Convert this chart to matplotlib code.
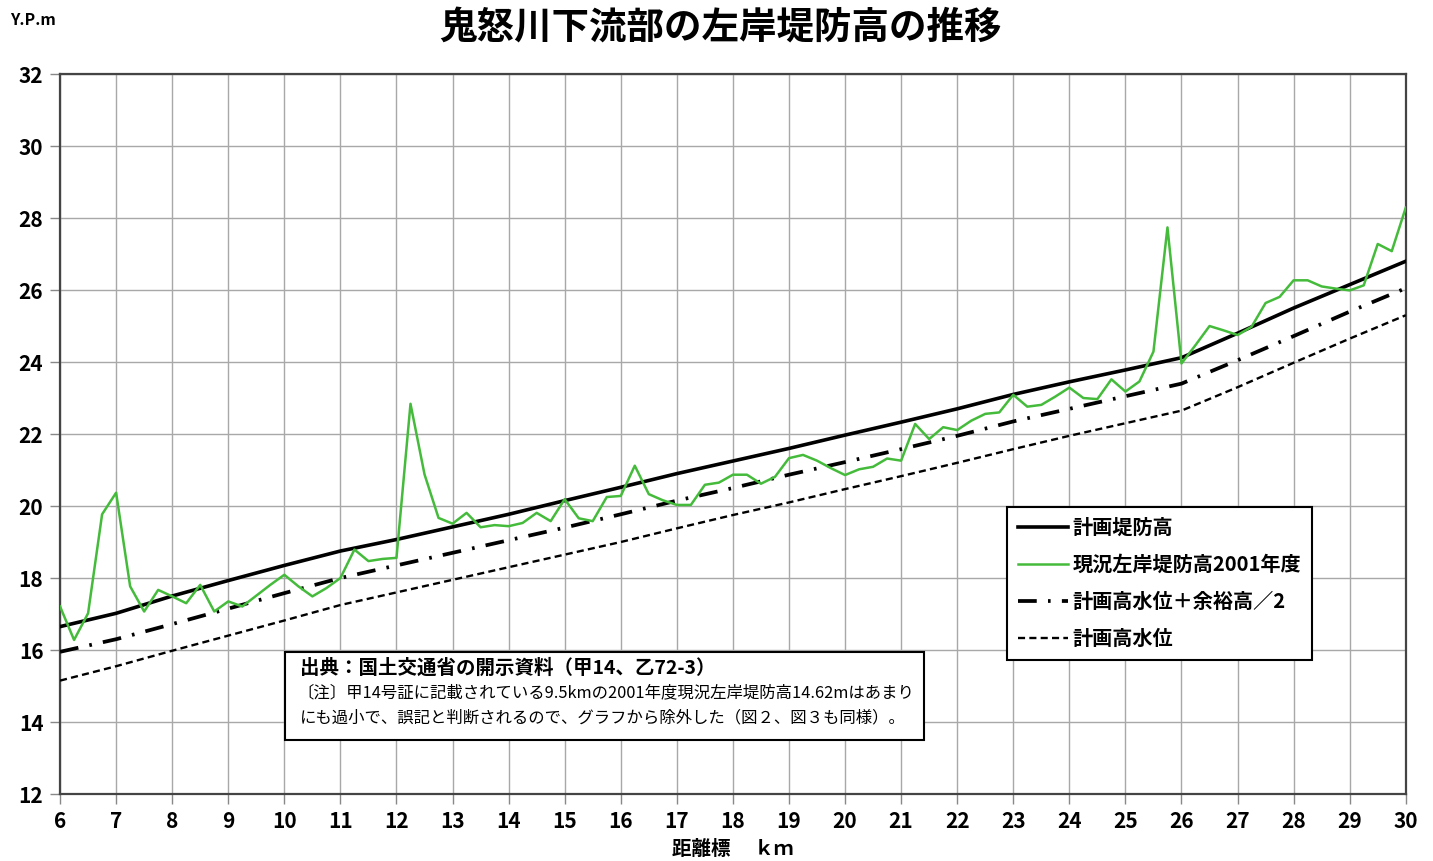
import numpy as np
import matplotlib
matplotlib.use("Agg")
import matplotlib.pyplot as plt
from matplotlib.patches import Rectangle

plt.rcParams['font.family'] = ['Noto Sans CJK JP', 'DejaVu Sans']

# 距離標 (km) for the design lines
km_plan = [6, 7, 8, 9, 10, 11, 12, 13, 14, 15, 16, 17, 18,
           19, 20, 21, 22, 23, 24, 25, 26, 27, 28, 29, 30]
# 計画堤防高
levee_plan = [16.65, 17.02, 17.50, 17.93, 18.35, 18.75, 19.07, 19.42, 19.77,
              20.15, 20.52, 20.90, 21.25, 21.60, 21.97, 22.33, 22.70, 23.10,
              23.45, 23.78, 24.12, 24.80, 25.50, 26.15, 26.80]
# 計画高水位＋余裕高／2
hwl_half = [15.95, 16.30, 16.72, 17.15, 17.58, 18.00, 18.35, 18.70, 19.05,
            19.40, 19.77, 20.15, 20.50, 20.87, 21.22, 21.58, 21.95, 22.35,
            22.70, 23.05, 23.40, 24.05, 24.72, 25.40, 26.05]
# 計画高水位
hwl = [15.15, 15.55, 15.98, 16.40, 16.82, 17.25, 17.60, 17.95, 18.30, 18.65,
       19.00, 19.38, 19.75, 20.10, 20.47, 20.83, 21.20, 21.58, 21.95, 22.30,
       22.65, 23.30, 23.98, 24.65, 25.30]

# 現況左岸堤防高 2001年度, every 0.25 km (9.5 km left out)
km_now = [k for k in np.arange(6.0, 30.01, 0.25) if abs(k - 9.5) > 1e-6]
levee_now = [17.21, 16.28, 17.02, 19.77, 20.37, 17.77, 17.07, 17.67, 17.49,
             17.30, 17.81, 17.07, 17.35, 17.21,
             17.81, 18.09, 17.77, 17.49, 17.72, 18.00, 18.79, 18.47, 18.53,
             18.56, 22.84, 20.88, 19.67, 19.51, 19.81, 19.41, 19.47, 19.44,
             19.53, 19.81, 19.58, 20.19, 19.66, 19.58, 20.25, 20.28, 21.12,
             20.33, 20.16, 20.03, 20.03, 20.59, 20.65, 20.87, 20.87, 20.62,
             20.81, 21.33, 21.42, 21.26, 21.05, 20.86, 21.02, 21.09, 21.32,
             21.26, 22.28, 21.86, 22.19, 22.11, 22.37, 22.56, 22.60, 23.09,
             22.76, 22.81, 23.04, 23.29, 23.00, 22.97, 23.52, 23.18, 23.46,
             24.29, 27.74, 23.96, 24.47, 25.00, 24.88, 24.75, 24.98, 25.64,
             25.81, 26.27, 26.27, 26.10, 26.04, 25.99, 26.13, 27.28, 27.08,
             28.29]

fig = plt.figure(figsize=(14.33, 8.61), dpi=100)
ax = fig.add_axes([0.0419, 0.0778, 0.9391, 0.8362])

ax.plot(km_plan, levee_plan, color='black', lw=2.6, label='計画堤防高', zorder=4)
ax.plot(km_now, levee_now, color='#45bb3b', lw=1.8, label='現況左岸堤防高2001年度', zorder=5)
ax.plot(km_plan, hwl_half, color='black', lw=2.7, dashes=(5, 3, 0.7, 3),
        label='計画高水位＋余裕高／2', zorder=3)
ax.plot(km_plan, hwl, color='black', lw=1.7, dashes=(3, 1.8), label='計画高水位', zorder=3)

ax.set_xlim(6, 30)
ax.set_ylim(12, 32)
ax.set_xticks(range(6, 31))
ax.set_yticks(range(12, 33, 2))
ax.grid(True, color='#a8a8a8', lw=1.0)
ax.set_axisbelow(True)
for s in ax.spines.values():
    s.set_color('#444444')
    s.set_linewidth(1.6)
ax.tick_params(axis='both', length=7, width=1.0, color='#888888', pad=5,
               labelsize=15)
for lab in ax.get_xticklabels() + ax.get_yticklabels():
    lab.set_fontweight('bold')

ax.set_xlabel('距離標　 ｋｍ', fontsize=14, fontweight='bold', labelpad=6)
fig.text(0.503, 0.969, '鬼怒川下流部の左岸堤防高の推移', ha='center', va='center',
         fontsize=27, fontweight='bold')
fig.text(0.007, 0.977, 'Y.P.m', ha='left', va='center', fontsize=11.5, fontweight='bold')

leg = ax.legend(loc='upper left', bbox_to_anchor=(0.704, 0.3986), borderaxespad=0,
                fancybox=False, edgecolor='black', framealpha=1, handlelength=2.5,
                handletextpad=0.25, labelspacing=0.8, borderpad=0.5,
                prop={'size': 14.5, 'weight': 'bold'})
leg.get_frame().set_linewidth(1.5)
leg.set_zorder(10)

box = Rectangle((0.167, 0.075), 0.475, 0.122, transform=ax.transAxes,
                facecolor='white', edgecolor='black', lw=1.5, zorder=8)
ax.add_patch(box)
ax.text(0.178, 0.175, '出典：国土交通省の開示資料（甲14、乙72-3）', transform=ax.transAxes,
        ha='left', va='center', fontsize=14, fontweight='bold', zorder=9)
ax.text(0.176, 0.140, '〔注〕甲14号証に記載されている9.5kmの2001年度現況左岸堤防高14.62mはあまり',
        transform=ax.transAxes, ha='left', va='center', fontsize=11.8, zorder=9)
ax.text(0.178, 0.1056, 'にも過小で、誤記と判断されるので、グラフから除外した（図２、図３も同様）。',
        transform=ax.transAxes, ha='left', va='center', fontsize=11.8, zorder=9)

fig.savefig('out.png', dpi=100)
